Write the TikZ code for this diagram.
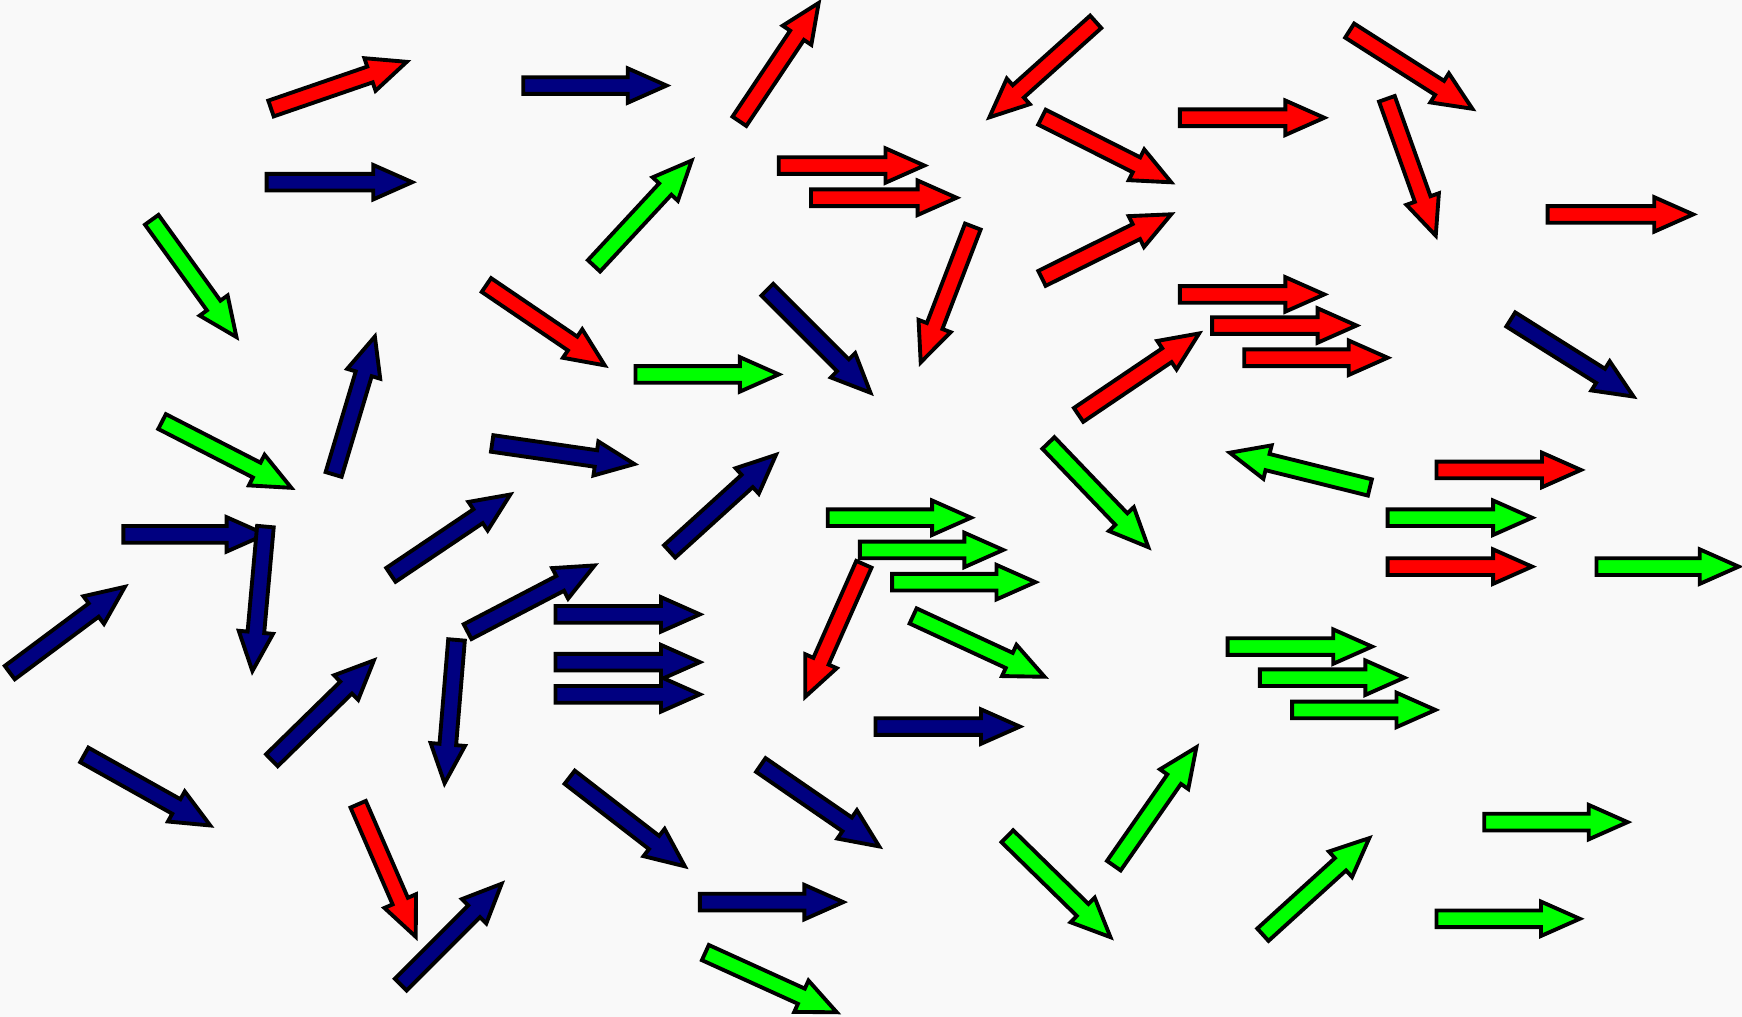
\documentclass[tikz,border=0pt]{standalone}
\definecolor{arrownavy}{HTML}{000080}
\definecolor{arrowred}{HTML}{FF0000}
\definecolor{arrowgreen}{HTML}{00FF00}
\definecolor{paper}{HTML}{F9F9F9}
\tikzset{
  blockarrow/.style={draw=black,line width=1.1pt,line join=miter},
}
\begin{document}
\begin{tikzpicture}[x=0.01111cm,y=-0.01111cm]
\fill[paper] (0,0) rectangle (1568,915);
\useasboundingbox (0,0) rectangle (1568,915);

\foreach \c/\xa/\ya/\xb/\yb in {
arrownavy/470/77/602/77, arrownavy/239/164/373/164, arrownavy/690/260/785/355,
arrownavy/1359/287/1472/358, arrownavy/300/428/338/301, arrownavy/442/399/573/418,
arrownavy/602/497/700/408, arrownavy/110/481/241/481, arrownavy/239/473/227/606,
arrownavy/351/518/461/444, arrownavy/8/606/114/527, arrownavy/420/569/537/508,
arrownavy/411/575/400/707, arrownavy/499/553/632/553, arrownavy/499/596/632/596,
arrownavy/499/625/632/625, arrownavy/244/685/338/593, arrownavy/787/654/920/654,
arrownavy/75/679/191/744, arrownavy/512/699/618/781, arrownavy/684/688/793/763,
arrownavy/360/887/453/794, arrownavy/629/812/761/812,
arrowred/243/98/368/55, arrowred/665/110/738/1, arrowred/987/19/889/107,
arrowred/1214/27/1327/99, arrowred/700/149/834/149, arrowred/729/178/863/178,
arrowred/937/105/1056/165, arrowred/1061/106/1194/106, arrowred/1248/88/1293/214,
arrowred/1392/193/1526/193, arrowred/876/203/828/328, arrowred/937/251/1056/192,
arrowred/437/256/546/330, arrowred/1061/265/1194/265, arrowred/1090/293/1223/293,
arrowred/1119/322/1251/322, arrowred/970/374/1081/299, arrowred/1292/423/1425/423,
arrowred/1248/510/1381/510, arrowred/778/507/724/629, arrowred/322/723/375/845,
arrowgreen/136/197/214/305, arrowgreen/534/240/624/143, arrowgreen/571/337/703/337,
arrowgreen/145/379/264/440, arrowgreen/943/398/1035/494, arrowgreen/1234/439/1105/407,
arrowgreen/744/466/876/466, arrowgreen/773/495/905/495, arrowgreen/802/524/934/524,
arrowgreen/1248/466/1381/466, arrowgreen/1436/510/1567/510, arrowgreen/821/554/942/610,
arrowgreen/1104/582/1237/582, arrowgreen/1133/610/1266/610, arrowgreen/1162/639/1294/639,
arrowgreen/1002/780/1078/671, arrowgreen/906/752/1001/845, arrowgreen/634/857/755/912,
arrowgreen/1136/842/1234/753, arrowgreen/1335/740/1467/740, arrowgreen/1292/827/1424/827}
{
\pgfmathsetmacro{\ang}{atan2(\ya-\yb,\xb-\xa)}
\pgfmathsetmacro{\len}{veclen(\xb-\xa,\yb-\ya)-2}
\filldraw[blockarrow,fill=\c,shift={(\xa,\ya)},rotate=\ang]
(1,7.5) -- (\len-35,7.5) -- (\len-35,15.5) -- (\len,0) -- (\len-35,-15.5) -- (\len-35,-7.5) -- (1,-7.5) -- cycle;
}

\end{tikzpicture}
\end{document}
